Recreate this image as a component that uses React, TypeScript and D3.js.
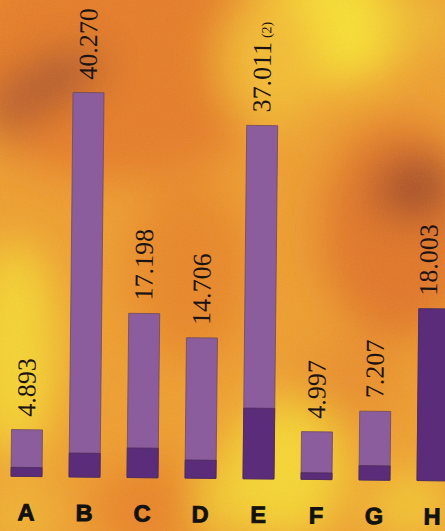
import React from "react";
import * as d3 from "d3";

const categories = ["A", "B", "C", "D", "E", "F", "G", "H"];
const totals = [4.893, 40.27, 17.198, 14.706, 37.011, 4.997, 7.207, 18.003];
const lowerPart = [0.94, 2.5, 3.1, 1.9, 7.4, 0.7, 1.5, 18.003];
const valueLabels = ["4.893", "40.270", "17.198", "14.706", "37.011", "4.997", "7.207", "18.003"];
const footnotes = ["", "", "", "", "(2)", "", "", ""];

const W = 445;
const H = 531;

// background colour blobs (decoration only)
const blobs = [
  { cx: 120, cy: 60, rx: 170, ry: 120, c: "#e67c28", r: 0 },
  { cx: 45, cy: 85, rx: 65, ry: 24, c: "#a9532a", r: -25 },
  { cx: 10, cy: 110, rx: 30, ry: 25, c: "#b85d2a", r: 0 },
  { cx: 330, cy: 25, rx: 80, ry: 60, c: "#f9e030", r: 0 },
  { cx: 270, cy: 60, rx: 50, ry: 70, c: "#f4bc30", r: 0 },
  { cx: 190, cy: 270, rx: 60, ry: 90, c: "#e98628", r: 0 },
  { cx: 400, cy: 230, rx: 80, ry: 110, c: "#e27626", r: 0 },
  { cx: 415, cy: 188, rx: 42, ry: 30, c: "#9c4626", r: -10 },
  { cx: 15, cy: 350, rx: 45, ry: 110, c: "#f6d430", r: 0 },
  { cx: 160, cy: 510, rx: 70, ry: 50, c: "#ea8428", r: 0 },
  { cx: 285, cy: 470, rx: 60, ry: 70, c: "#f6d632", r: 0 },
  { cx: 220, cy: 500, rx: 25, ry: 40, c: "#f4cc30", r: 0 },
  { cx: 350, cy: 380, rx: 50, ry: 40, c: "#ea8e2a", r: 0 },
  { cx: 410, cy: 505, rx: 40, ry: 35, c: "#f4c830", r: 0 },
  { cx: 20, cy: 515, rx: 40, ry: 30, c: "#f2b630", r: 0 },
  { cx: 420, cy: 20, rx: 40, ry: 30, c: "#f0b830", r: 0 },
];

export default function App() {
  const x = d3
    .scaleBand<string>()
    .domain(categories)
    .range([11, 448])
    .paddingInner(0.4655)
    .paddingOuter(0);
  const y = d3.scaleLinear().domain([0, 40.27]).range([478.5, 94]);
  const bw = x.bandwidth();

  return (
    <svg
      width={W}
      height={H}
      style={{ position: "absolute", left: 0, top: 0, display: "block" }}
    >
      <defs>
        <filter id="blur" x="-50%" y="-50%" width="200%" height="200%">
          <feGaussianBlur stdDeviation="22" />
        </filter>
        <filter id="noise">
          <feTurbulence type="fractalNoise" baseFrequency="0.9" numOctaves="2" seed="3" />
          <feColorMatrix type="saturate" values="0" />
          <feComponentTransfer>
            <feFuncA type="table" tableValues="0 0.12" />
          </feComponentTransfer>
        </filter>
      </defs>
      <rect x={0} y={0} width={W} height={H} fill="#ef9e2e" />
      <g filter="url(#blur)">
        {blobs.map((b, i) => (
          <ellipse
            key={i}
            cx={b.cx}
            cy={b.cy}
            rx={b.rx}
            ry={b.ry}
            fill={b.c}
            transform={`rotate(${b.r},${b.cx},${b.cy})`}
          />
        ))}
      </g>
      <rect x={0} y={0} width={W} height={H} filter="url(#noise)" />

      <g transform="rotate(0.6,222,478)">
        {categories.map((c, i) => {
          const x0 = x(c) as number;
          const top = y(totals[i]);
          const lowTop = y(lowerPart[i]);
          const lx = Math.min(x0 + bw / 2 + 8, W - 10);
          return (
            <g key={c}>
              <rect
                x={x0}
                y={top}
                width={bw}
                height={y(0) - top}
                fill="#8b5d9c"
                stroke="#6e4a5e"
                strokeWidth={0.8}
              />
              <rect
                x={x0}
                y={lowTop}
                width={bw}
                height={y(0) - lowTop}
                fill="#5a2c7a"
                stroke="#4e2a5a"
                strokeWidth={0.8}
              />
              <text
                transform={`translate(${lx},${top - 13}) rotate(-90)`}
                fontFamily="'Liberation Serif', 'Times New Roman', serif"
                fontSize={26}
                fill="#1c1414"
                textAnchor="start"
              >
                {valueLabels[i]}
                {footnotes[i] ? (
                  <tspan fontSize={14} dx={4}>
                    {footnotes[i]}
                  </tspan>
                ) : null}
              </text>
              <text
                x={x0 + bw / 2}
                y={522.5}
                textAnchor="middle"
                fontFamily="'Liberation Sans', Arial, sans-serif"
                fontWeight="bold"
                fontSize={23.5}
                fill="#111"
                stroke="#111"
                strokeWidth={0.9}
              >
                {c}
              </text>
            </g>
          );
        })}
      </g>
    </svg>
  );
}
